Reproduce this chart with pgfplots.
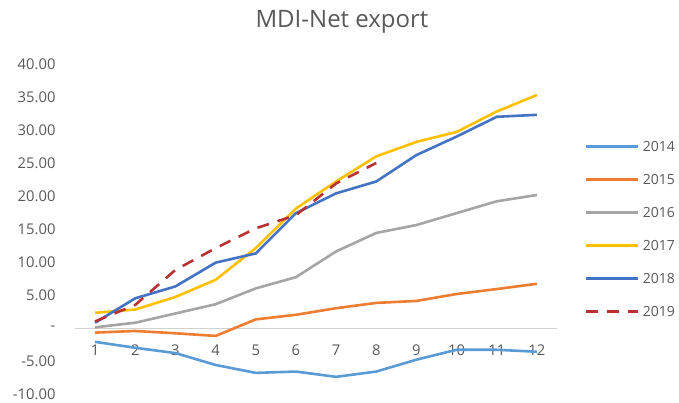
\documentclass[border=0pt]{standalone}
\usepackage{pgfplots}
\pgfplotsset{compat=1.18}
\usepackage{fontspec}
\setmainfont{Open Sans}
\definecolor{c14}{HTML}{5B9BD5}
\definecolor{c15}{HTML}{ED7D31}
\definecolor{c16}{HTML}{A5A5A5}
\definecolor{c17}{HTML}{FFC000}
\definecolor{c18}{HTML}{4472C4}
\definecolor{c19}{HTML}{B83233}
\definecolor{txt}{HTML}{595959}
\begin{document}
\begin{tikzpicture}
\useasboundingbox (-75pt,-9pt) rectangle (604pt,394pt);
\begin{axis}[
  at={(0,0)}, anchor=south west, scale only axis,
  width=482pt, height=330pt,
  xmin=0.5, xmax=12.5, ymin=-10, ymax=40,
  axis x line=middle, axis y line=left,
  x axis line style={-, draw=black!18, line width=0.8pt},
  y axis line style={draw=none},
  major tick length=0pt,
  xtick={1,...,12},
  ytick={-10,-5,0,5,10,15,20,25,30,35,40},
  yticklabels={-10.00,-5.00,{-\hspace{10pt}},5.00,10.00,15.00,20.00,25.00,30.00,35.00,40.00},
  /pgf/number format/assume math mode=true,
  tick label style={font=\fontsize{14.8}{16}\selectfont, text=txt},
  yticklabel style={anchor=east, xshift=-16pt},
  xticklabel style={anchor=center, yshift=-22pt},
  clip=false,
  legend style={at={(1.05,0.5)}, anchor=west, draw=none, fill=none,
    font=\fontsize{14}{16}\selectfont, text=txt,
    nodes={text height=10pt, text depth=0pt, inner sep=0pt},
    row sep=23pt, column sep=4pt},
  legend cell align=left,
  legend image code/.code={\draw[#1] (0pt,0pt) -- (52pt,0pt);},
  every axis plot/.append style={line width=2.6pt, line join=round},
]
\addplot[c14] coordinates {(1,-2.1) (2,-3.0) (3,-3.8) (4,-5.6) (5,-6.8) (6,-6.6) (7,-7.4) (8,-6.6) (9,-4.8) (10,-3.3) (11,-3.3) (12,-3.6)};
\addlegendentry{2014}
\addplot[c15] coordinates {(1,-0.7) (2,-0.45) (3,-0.8) (4,-1.2) (5,1.3) (6,2.0) (7,3.0) (8,3.8) (9,4.1) (10,5.15) (11,5.9) (12,6.7)};
\addlegendentry{2015}
\addplot[c16] coordinates {(1,0.1) (2,0.8) (3,2.2) (4,3.6) (5,6.0) (6,7.7) (7,11.6) (8,14.4) (9,15.6) (10,17.4) (11,19.2) (12,20.15)};
\addlegendentry{2016}
\addplot[c17] coordinates {(1,2.3) (2,2.8) (3,4.7) (4,7.3) (5,12.1) (6,18.1) (7,22.2) (8,26.0) (9,28.2) (10,29.7) (11,32.8) (12,35.3)};
\addlegendentry{2017}
\addplot[c18] coordinates {(1,0.8) (2,4.5) (3,6.3) (4,9.9) (5,11.3) (6,17.4) (7,20.4) (8,22.2) (9,26.2) (10,29.0) (11,32.0) (12,32.3)};
\addlegendentry{2018}
\addplot[c19, dash pattern=on 12pt off 9pt] coordinates {(1,1.0) (2,3.5) (3,8.8) (4,12.1) (5,15.1) (6,17.1) (7,21.9) (8,25.0)};
\addlegendentry{2019}
\end{axis}
\node[font=\fontsize{24}{28}\selectfont, text=txt] at (267pt,372pt) {MDI-Net export};
\end{tikzpicture}
\end{document}
